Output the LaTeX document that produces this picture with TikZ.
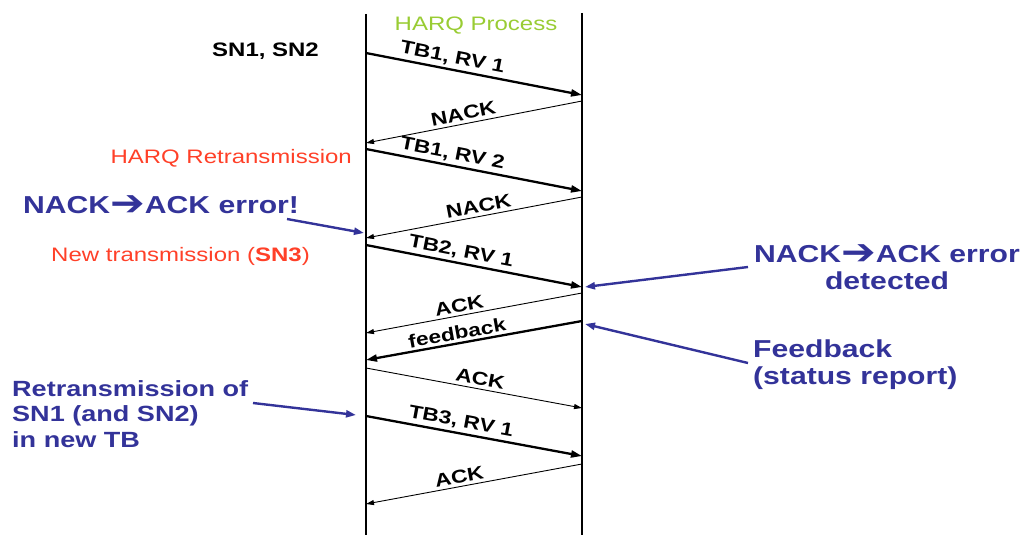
\documentclass[tikz,border=0pt]{standalone}
\usepackage{fontspec}
\setmainfont{Liberation Sans}[FakeStretch=1.23]
\newfontfamily\dvfont{DejaVu Sans}[FakeStretch=1.15]
\usetikzlibrary{arrows.meta}
\definecolor{harqgreen}{RGB}{153,204,51}
\definecolor{harqred}{RGB}{255,64,40}
\definecolor{harqblue}{RGB}{51,51,153}
\newcommand{\harrow}{\raisebox{-2.5pt}{\dvfont\fontsize{36}{36}\selectfont ➔}}
\begin{document}
\begin{tikzpicture}[x=1pt,y=-1pt,
  lbl/.style={font=\fontsize{18.5}{20}\selectfont\bfseries, sloped, above=2.5pt, inner sep=1pt},
  msgthick/.style={line width=2.3pt, -{Triangle[length=11pt,width=7pt]}},
  msgthin/.style={line width=0.9pt, -{Triangle[length=8pt,width=5pt]}},
  lifeline/.style={line width=1.2pt},
  note/.style={inner sep=0pt, text=harqblue, font=\fontsize{24.5}{27}\selectfont\bfseries},
  pointer/.style={harqblue, line width=2.4pt, -{Triangle[length=10pt,width=7pt]}},
  plain/.style={inner sep=0pt}
]
\useasboundingbox (0,0) rectangle (1026,535);
% lifelines
\coordinate (Ltop) at (366,14);
\coordinate (Lbot) at (366,535);
\coordinate (Rtop) at (582,13);
\coordinate (Rbot) at (582,535);
\draw[lifeline] (Ltop) -- (Lbot);
\draw[lifeline] (Rtop) -- (Rbot);
% message end points
\coordinate (a1) at (366,53);  \coordinate (b1) at (582,95);
\coordinate (b2) at (582,101); \coordinate (a2) at (366,143);
\coordinate (a3) at (366,149); \coordinate (b3) at (582,191);
\coordinate (b4) at (582,197); \coordinate (a4) at (366,238);
\coordinate (a5) at (366,245); \coordinate (b5) at (582,287);
\coordinate (b6) at (582,293); \coordinate (a6) at (366,333);
\coordinate (b7) at (582,321); \coordinate (a7) at (366,360);
\coordinate (a8) at (366,368); \coordinate (b8) at (582,408);
\coordinate (a9) at (366,416); \coordinate (b9) at (582,456);
\coordinate (b10) at (582,464); \coordinate (a10) at (366,504);
% messages
\draw[msgthick] (a1) -- (b1);
\path (a1) -- node[lbl,pos=0.39] {TB1, RV 1} (b1);
\draw[msgthin] (b2) -- (a2);
\path (a2) -- node[lbl,pos=0.46] {NACK} (b2);
\draw[msgthick] (a3) -- (b3);
\path (a3) -- node[lbl,pos=0.39] {TB1, RV 2} (b3);
\draw[msgthin] (b4) -- (a4);
\path (a4) -- node[lbl,pos=0.53] {NACK} (b4);
\draw[msgthick] (a5) -- (b5);
\path (a5) -- node[lbl,pos=0.43] {TB2, RV 1} (b5);
\draw[msgthin] (b6) -- (a6);
\path (a6) -- node[lbl,pos=0.44] {ACK} (b6);
\draw[msgthick] (b7) -- (a7);
\path (a7) -- node[lbl,pos=0.43] {feedback} (b7);
\draw[msgthin] (a8) -- (b8);
\path (a8) -- node[lbl,pos=0.52] {ACK} (b8);
\draw[msgthick] (a9) -- (b9);
\path (a9) -- node[lbl,pos=0.43] {TB3, RV 1} (b9);
\draw[msgthin] (b10) -- (a10);
\path (a10) -- node[lbl,pos=0.44] {ACK} (b10);
% plain texts
\node[plain, anchor=base, text=harqgreen, font=\fontsize{19.5}{21}\selectfont] (proc) at (476,31) {HARQ Process};
\node[plain, anchor=base west, font=\fontsize{19.5}{21}\selectfont\bfseries] (sn) at (212,57) {SN1, SN2};
\node[plain, anchor=base east, text=harqred, font=\fontsize{19.5}{21}\selectfont] (retx) at (352,163) {HARQ Retransmission};
\node[plain, anchor=base east, text=harqred, font=\fontsize{19.5}{21}\selectfont] (newtx) at (310,261) {New transmission (\textbf{SN3})};
% blue notes
\node[note, anchor=base west] (err1) at (23,213) {NACK\harrow ACK error!};
\node[note, anchor=base, align=center] (err2) at (887,289) {NACK\harrow ACK error\\detected};
\node[note, anchor=base west, align=left, font=\fontsize{24.5}{27}\selectfont\bfseries] (fb) at (753,384) {Feedback\\(status report)};
\node[note, anchor=base west, align=left, font=\fontsize{22}{25.5}\selectfont\bfseries] (rt) at (12,447) {Retransmission of\\SN1 (and SN2)\\in new TB};
% pointers
\coordinate (e1s) at (287,219); \coordinate (e1t) at (364,233);
\coordinate (e2s) at (748,267); \coordinate (e2t) at (585,287);
\coordinate (e3s) at (748,363); \coordinate (e3t) at (585,324);
\coordinate (e4s) at (253,403); \coordinate (e4t) at (356,415);
\draw[pointer] (e1s) -- (e1t);
\draw[pointer] (e2s) -- (e2t);
\draw[pointer] (e3s) -- (e3t);
\draw[pointer] (e4s) -- (e4t);
\end{tikzpicture}
\end{document}
